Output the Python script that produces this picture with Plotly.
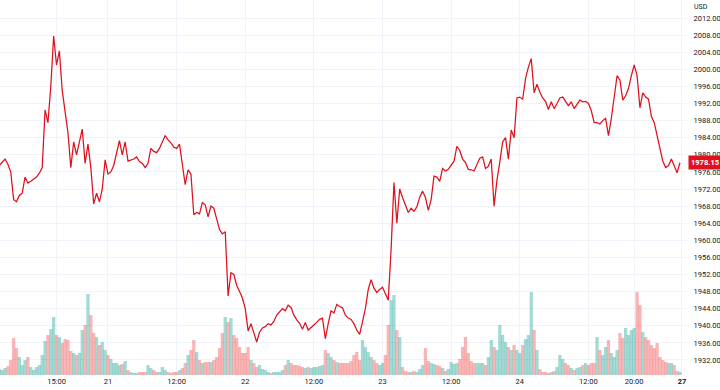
import plotly.graph_objects as go

# ---- data -------------------------------------------------------------
start_hour = 5.0      # first bar, trading hours after day-20 00:00
bar_hours = 0.5       # 30-minute bars

prices = [
    1977.5, 1978.2, 1979.0, 1977.8, 1976.0, 1969.5, 1969.0, 1970.5, 1971.0, 1974.8,
    1973.4, 1973.8, 1974.2, 1974.8, 1975.7, 1977.0, 1990.5, 1987.5, 1996.0, 2007.8,
    2001.0, 2004.3, 1995.0, 1990.0, 1985.2, 1977.0, 1983.0, 1980.0, 1983.0, 1986.0,
    1978.0, 1982.5, 1977.0, 1968.5, 1971.0, 1969.0, 1972.0, 1978.8, 1975.5, 1976.0,
    1977.5, 1980.8, 1983.3, 1980.0, 1983.0, 1978.5, 1978.8, 1979.0, 1979.5, 1978.4,
    1978.0, 1977.0, 1978.0, 1981.5, 1980.8, 1980.5, 1981.5, 1983.0, 1984.5, 1983.5,
    1982.8, 1981.8, 1981.5, 1982.5, 1978.0, 1973.0, 1976.5, 1975.5, 1966.0, 1966.5,
    1966.2, 1968.8, 1968.3, 1965.5, 1968.0, 1967.5, 1965.0, 1962.5, 1961.5, 1962.0,
    1947.0, 1952.4, 1952.0, 1949.5, 1948.0, 1946.5, 1944.0, 1938.8, 1940.5, 1938.5,
    1936.2, 1938.5, 1939.5, 1939.8, 1940.5, 1940.2, 1941.0, 1942.5, 1943.2, 1944.0,
    1943.5, 1944.8, 1944.3, 1942.5, 1941.4, 1940.6, 1939.2, 1940.8, 1939.0, 1939.5,
    1940.2, 1940.8, 1941.5, 1941.8, 1937.0, 1940.5, 1943.5, 1943.0, 1945.0, 1944.5,
    1944.2, 1942.5, 1941.8, 1941.5, 1940.5, 1939.0, 1938.0, 1941.0, 1944.0, 1948.5,
    1950.8, 1948.8, 1947.8, 1948.5, 1949.0, 1947.5, 1946.0, 1958.0, 1973.5, 1964.0,
    1972.0, 1970.0, 1968.0, 1966.5, 1967.5, 1966.8, 1967.8, 1970.1, 1971.5, 1970.0,
    1967.0, 1969.5, 1975.0, 1974.8, 1973.8, 1976.8, 1976.2, 1976.6, 1977.6, 1978.5,
    1982.0, 1981.0, 1979.0, 1978.2, 1976.6, 1976.5, 1976.2, 1977.8, 1979.2, 1979.5,
    1976.8, 1977.3, 1979.0, 1968.0, 1974.0, 1978.3, 1983.0, 1984.0, 1979.0, 1985.8,
    1984.0, 1993.3, 1993.5, 1993.0, 1997.8, 2000.5, 2002.5, 1994.5, 1996.5, 1994.7,
    1993.3, 1992.5, 1990.6, 1992.4, 1990.8, 1992.0, 1993.3, 1993.5, 1992.4, 1991.5,
    1992.4, 1990.8, 1991.8, 1992.8, 1992.4, 1992.5, 1992.0, 1990.3, 1987.5, 1987.5,
    1987.2, 1988.0, 1988.5, 1984.5, 1988.5, 1993.0, 1998.5, 1997.5, 1992.8, 1993.8,
    1995.5, 1998.5, 2001.0, 1998.5, 1991.0, 1994.5, 1993.5, 1993.0, 1989.0, 1987.5,
    1984.5, 1982.0, 1978.5, 1977.0, 1977.5, 1979.0, 1977.5, 1975.8, 1978.15,
]

# volume per bar (hundreds of lots)
volumes = [
    6, 5, 7, 9, 15, 37, 27, 18, 10, 15,
    18, 8, 5, 8, 10, 20, 34, 40, 46, 58,
    40, 38, 32, 36, 35, 24, 22, 20, 22, 45,
    50, 81, 60, 42, 38, 30, 33, 25, 20, 16,
    12, 12, 10, 11, 14, 5, 3, 2, 2, 3,
    3, 3, 10, 7, 5, 3, 3, 8, 5, 3,
    2, 3, 3, 5, 7, 12, 20, 25, 35, 23,
    15, 12, 13, 13, 13, 15, 18, 27, 42, 58,
    53, 57, 40, 37, 28, 22, 22, 28, 15, 12,
    8, 10, 6, 5, 3, 2, 3, 3, 3, 5,
    10, 15, 12, 10, 10, 9, 8, 7, 8, 7,
    8, 8, 9, 10, 25, 22, 18, 15, 13, 12,
    12, 12, 12, 14, 20, 23, 15, 35, 28, 23,
    18, 15, 12, 10, 12, 20, 50, 75, 80, 45,
    38, 8, 4, 3, 3, 4, 3, 6, 10, 27,
    14, 12, 11, 10, 9, 7, 4, 6, 13, 11,
    12, 16, 28, 38, 22, 14, 12, 12, 12, 12,
    10, 18, 35, 28, 25, 50, 40, 33, 28, 25,
    30, 25, 22, 30, 36, 40, 83, 45, 25, 6,
    3, 3, 2, 3, 4, 8, 20, 16, 12, 10,
    7, 5, 7, 8, 10, 12, 10, 12, 12, 38,
    25, 20, 28, 35, 22, 18, 25, 42, 37, 47,
    40, 45, 47, 83, 70, 43, 38, 35, 30, 27,
    32, 18, 15, 13, 12, 12, 10, 4, 3,
]

tick_hours = [15, 24, 36, 48, 60, 72, 84, 96, 108, 116, 124.35]
tick_labels = ["15:00", "21", "12:00", "22", "12:00", "23", "12:00", "24",
               "12:00", "20:00", "<b>27</b>"]
price_ticks = list(range(1932, 2013, 4))
last_price = prices[-1]

# ---- figure -----------------------------------------------------------
x = [start_hour + bar_hours * i for i in range(len(prices))]
UP = "rgba(38,166,154,0.42)"
DOWN = "rgba(239,83,80,0.42)"
vol_colors = [UP if i == 0 or prices[i] >= prices[i - 1] else DOWN
              for i in range(len(prices))]

FONT = "Roboto"
TXT = "#131722"
GRID = "#f0f3fa"

fig = go.Figure()
fig.add_trace(go.Bar(x=x, y=volumes, marker=dict(color=vol_colors, line=dict(width=0)),
                     width=bar_hours * 1.15, yaxis="y", hoverinfo="skip"))
fig.add_trace(go.Scatter(x=x, y=prices, mode="lines", yaxis="y2",
                         line=dict(color="#e0101c", width=1.25)))

fig.update_layout(
    width=720, height=390, autosize=False,
    margin=dict(l=0, r=33, t=0, b=15),
    paper_bgcolor="white", plot_bgcolor="white",
    showlegend=False,
    font=dict(family=FONT, size=7.5, color=TXT),
    xaxis=dict(range=[5.12, 125.23], tickmode="array", tickvals=tick_hours,
               ticktext=tick_labels, showgrid=True, gridcolor=GRID, gridwidth=1,
               zeroline=False, showline=False, ticks="", tickfont=dict(size=7.5, color=TXT)),
    yaxis=dict(range=[0, max(volumes) * 375 / 83], visible=False, showgrid=False,
               zeroline=False),
    yaxis2=dict(overlaying="y", side="right", range=[1928.49, 2016.21],
                tickmode="array", tickvals=price_ticks, tickformat=".2f",
                showgrid=True, gridcolor=GRID, gridwidth=1, zeroline=False,
                showline=False, ticks="outside", ticklen=4,
                tickcolor="rgba(0,0,0,0)", tickfont=dict(size=7.5, color=TXT)),
    annotations=[
        dict(x=1, xref="paper", xanchor="left", xshift=1, y=last_price, yref="y2",
             text="<b>%.2f</b>" % last_price, showarrow=False,
             font=dict(color="white", size=7.5, family=FONT),
             bgcolor="#e0101c", borderpad=2),
        dict(x=1, xref="paper", xanchor="left", xshift=5, y=1, yref="paper",
             yanchor="top", yshift=-1, text="USD", showarrow=False,
             font=dict(size=7, color=TXT, family=FONT)),
    ],
)

fig.write_html("out.html", config={"displayModeBar": False},
               post_script="document.body.style.margin='0';"
                           "document.body.style.padding='0';"
                           "document.body.style.overflow='hidden';")
